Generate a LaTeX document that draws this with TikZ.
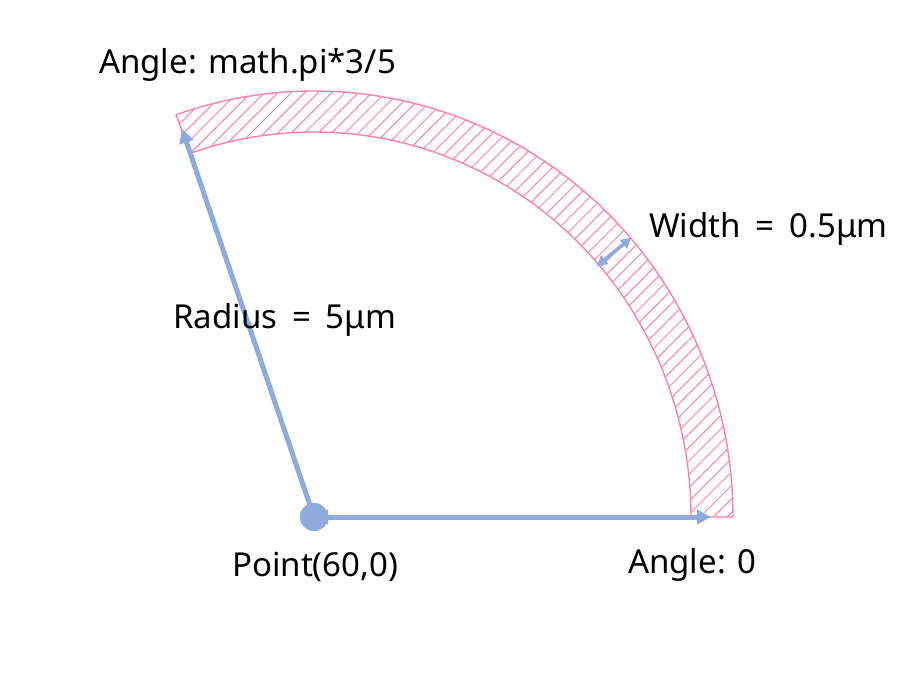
\documentclass[tikz,border=0pt]{standalone}
\usepackage{fontspec}
\setmainfont{Noto Sans}
\usetikzlibrary{arrows.meta,patterns.meta,calc}
\definecolor{arrowblue}{RGB}{143,170,220}
\definecolor{bandpink}{RGB}{255,130,170}
\begin{document}
\begin{tikzpicture}[x=1pt,y=-1pt,
  lbl/.style={font=\fontsize{33}{40}\selectfont, inner sep=0pt, anchor=base west},
  bluearrow/.style={draw=arrowblue, line width=5pt, -{Triangle[length=14pt,width=14pt]}},
  widtharrow/.style={draw=arrowblue, line width=3.5pt, {Triangle[length=10pt,width=11pt]}-{Triangle[length=10pt,width=11pt]}},
  band/.style={draw=bandpink, line width=1.4pt, pattern={Lines[angle=45,distance=9.5pt,line width=1pt]}, pattern color=bandpink},
  centre/.style={circle, fill=arrowblue, minimum size=28pt, inner sep=0pt},
]
\useasboundingbox[fill=white] (0,0) rectangle (919,693);
% hatched ring segment
\path[band] (733,517) arc[start angle=0, end angle=-109.2, x radius=419, y radius=426]
  -- ($(314,517)+(-109.2:377 and 385)$) arc[start angle=-109.2, end angle=0, x radius=377, y radius=385] -- cycle;
% nodes
\node[centre] (c) at (314,517) {};
\coordinate (rtip) at (182,129);
\coordinate (atip) at (711,517);
\coordinate (w1) at (597,266);
\coordinate (w2) at (631,238);
% connectors
\draw[bluearrow] (c.center) -- (rtip);
\draw[bluearrow, {Triangle[length=14pt,width=14pt]}-{Triangle[length=14pt,width=14pt]}] (c.center) -- (atip);
\draw[widtharrow] (w1) -- (w2);
\node[centre] (c2) at (c) {};
% labels
\node[lbl] (lang) at (99,74) {Angle: math.pi*3/5};
\node[lbl] (lwidth) at (649,237) {Width\hspace{0.45em}=\hspace{0.45em}0.5μm};
\node[lbl] (lrad) at (173,328) {Radius\hspace{0.45em}=\hspace{0.45em}5μm};
\node[lbl] (lpt) at (232,576) {Point(60,0)};
\node[lbl] (lzero) at (628,573) {Angle: 0};
\end{tikzpicture}
\end{document}
